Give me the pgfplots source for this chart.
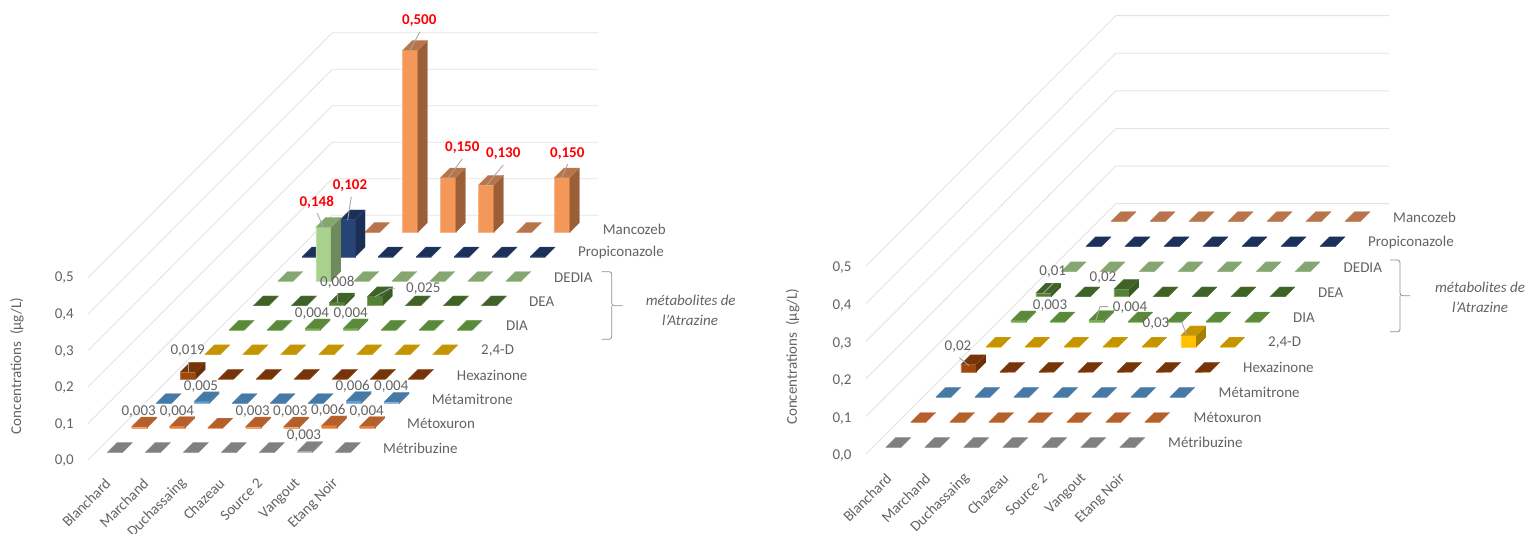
\documentclass[border=0pt]{standalone}
\usepackage{pgfplots}
\pgfplotsset{compat=1.18}
\usepackage{fontspec}
\setmainfont{Carlito}

% series colours: front, top and side faces of the prisms
\definecolor{mancF}{HTML}{F4985A}\definecolor{mancT}{HTML}{B8744A}\definecolor{mancS}{HTML}{9A5F37}
\definecolor{propF}{HTML}{264478}\definecolor{propT}{HTML}{1B3159}\definecolor{propS}{HTML}{1A2F55}
\definecolor{dediF}{HTML}{A9D18E}\definecolor{dediT}{HTML}{86A671}\definecolor{dediS}{HTML}{6F8B5C}
\definecolor{deaF}{HTML}{548235}\definecolor{deaT}{HTML}{3F6326}\definecolor{deaS}{HTML}{3A5A24}
\definecolor{diaF}{HTML}{70AD47}\definecolor{diaT}{HTML}{5A8A39}\definecolor{diaS}{HTML}{4F7A32}
\definecolor{tfdF}{HTML}{FFC000}\definecolor{tfdT}{HTML}{C49500}\definecolor{tfdS}{HTML}{A67E00}
\definecolor{hexF}{HTML}{9E480E}\definecolor{hexT}{HTML}{773409}\definecolor{hexS}{HTML}{6A2F08}
\definecolor{metaF}{HTML}{5B9BD5}\definecolor{metaT}{HTML}{4679A6}\definecolor{metaS}{HTML}{3E6C93}
\definecolor{mtxF}{HTML}{ED7D31}\definecolor{mtxT}{HTML}{B5602A}\definecolor{mtxS}{HTML}{A05526}
\definecolor{mtbF}{HTML}{A5A5A5}\definecolor{mtbT}{HTML}{808080}\definecolor{mtbS}{HTML}{707070}
\definecolor{txt}{HTML}{636363}
\definecolor{gridc}{HTML}{E3E3E3}
\definecolor{leader}{HTML}{A6A6A6}

\newcommand{\labfont}{\fontsize{15}{18}\selectfont}

% oblique projection of one chart: origin of the first cell, column step,
% row step, scale of the value axis
\newcommand{\setgeom}[6]{%
  \def\gox{#1}\def\goy{#2}\def\gcol{#3}\def\grx{#4}\def\gry{#5}\def\gval{#6}%
  \def\gwid{15.3}\def\gdep{9.7}}

% one prism: row, column, value, series
\newcommand{\prism}[4]{%
  \pgfmathsetmacro\pxa{\gox+#2*\gcol+#1*\grx}%
  \pgfmathsetmacro\pxb{\pxa+\gwid}%
  \pgfmathsetmacro\pxc{\pxb+\gdep}%
  \pgfmathsetmacro\pxd{\pxa+\gdep}%
  \pgfmathsetmacro\pyb{\goy-#1*\gry}%
  \pgfmathsetmacro\pyt{\pyb-#3*\gval}%
  \pgfmathsetmacro\pybb{\pyb-\gdep}%
  \pgfmathsetmacro\pytb{\pyt-\gdep}%
  \edef\doit{\noexpand\addplot[fill=#4F,draw=#4F!70!white,line width=.5pt]
    coordinates {(\pxa,\pyb) (\pxb,\pyb) (\pxb,\pyt) (\pxa,\pyt) (\pxa,\pyb)};
    \noexpand\addplot[fill=#4S,draw=#4S,line width=.2pt]
    coordinates {(\pxb,\pyb) (\pxc,\pybb) (\pxc,\pytb) (\pxb,\pyt) (\pxb,\pyb)};
    \noexpand\addplot[fill=#4T,draw=#4T!85!white,line width=.3pt]
    coordinates {(\pxa,\pyt) (\pxb,\pyt) (\pxc,\pytb) (\pxd,\pytb) (\pxa,\pyt)};}%
  \doit}

% a full row of seven stations: row, series, seven values
\newcommand{\barrow}[9]{%
  \prism{#1}{0}{#3}{#2}\prism{#1}{1}{#4}{#2}\prism{#1}{2}{#5}{#2}%
  \prism{#1}{3}{#6}{#2}\prism{#1}{4}{#7}{#2}\prism{#1}{5}{#8}{#2}\prism{#1}{6}{#9}{#2}}

% walls: front-left x, front y of level 0, back-left x, back y of level 0, right end, level step
\newcommand{\walls}[6]{%
  \pgfplotsinvokeforeach{0,1,2,3,4,5}{%
    \pgfmathsetmacro\wya{#2-##1*#6}%
    \pgfmathsetmacro\wyc{#4-##1*#6}%
    \edef\doit{\noexpand\addplot[gridc,line width=.9pt]
      coordinates {(#1,\wya) (#3,\wyc) (#5,\wyc)};}%
    \doit}}

\newcommand{\vallab}[3]{\node[font=\labfont,text=txt,inner sep=0pt] at (#1,#2) {#3};}
\newcommand{\redlab}[3]{\node[font=\labfont\bfseries,text=red,inner sep=0pt] at (#1,#2) {#3};}
\newcommand{\rowlab}[3]{\node[font=\labfont,text=txt,inner sep=0pt,anchor=west] at (#1,#2) {#3};}
\newcommand{\ticklab}[3]{\node[font=\labfont,text=txt,inner sep=0pt,anchor=east] at (#1,#2) {#3};}
\newcommand{\catlab}[3]{\node[font=\labfont,text=txt,inner sep=0pt,anchor=east,rotate=45] at (#1,#2) {#3};}

\begin{document}
\begin{tikzpicture}[x=1pt,y=1pt]
\path[use as bounding box] (0,0) rectangle (1531pt,534pt);
\begin{axis}[
  at={(0pt,0pt)},anchor=south west,
  width=1531pt,height=534pt,scale only axis,
  xmin=0,xmax=1531,ymin=0,ymax=534,y dir=reverse,
  hide axis,clip=false,no markers]

% ---- first chart ----
\walls{88}{460}{332.3}{215.3}{598.3}{36.5}
\setgeom{107.3}{452.3}{38}{24.35}{24.44}{364}
\barrow{9}{manc}{0}{0}{0.500}{0.150}{0.130}{0}{0.150}
\barrow{8}{prop}{0}{0.102}{0}{0}{0}{0}{0}
\barrow{7}{dedi}{0}{0.148}{0}{0}{0}{0}{0}
\barrow{6}{dea}{0}{0}{0.008}{0.025}{0}{0}{0}
\barrow{5}{dia}{0}{0}{0.004}{0.004}{0}{0}{0}
\barrow{4}{tfd}{0}{0}{0}{0}{0}{0}{0}
\barrow{3}{hex}{0.019}{0}{0}{0}{0}{0}{0}
\barrow{2}{meta}{0}{0.005}{0}{0}{0}{0.006}{0.004}
\barrow{1}{mtx}{0.003}{0.004}{0}{0.003}{0.003}{0.006}{0.004}
\barrow{0}{mtb}{0}{0}{0}{0}{0}{0.003}{0}

% leader lines
\addplot[leader,line width=.9pt] coordinates {(410,50) (420,31.7)};
\addplot[leader,line width=.9pt] coordinates {(448.3,177.7) (462.3,159)};
\addplot[leader,line width=.9pt] coordinates {(486.7,185) (503.3,165)};
\addplot[leader,line width=.9pt] coordinates {(561.7,177.7) (567.7,164)};
\addplot[leader,line width=.9pt] coordinates {(347.7,220) (351.3,196.7)};
\addplot[leader,line width=.9pt] coordinates {(323.3,227.3) (317.3,213.3)};
\addplot[leader,line width=.9pt] coordinates {(337.7,302.7) (337.7,293.3)};
\addplot[leader,line width=.9pt] coordinates {(375,296.7) (390,288.3) (395,288.3)};
\addplot[leader,line width=.9pt] coordinates {(188.3,371.7) (188.3,361.7)};

\redlab{419.3}{20.7}{0,500}
\redlab{462.3}{147.7}{0,150}
\redlab{503.3}{154}{0,130}
\redlab{567.3}{153.3}{0,150}
\redlab{350}{185.7}{0,102}
\redlab{316.7}{202.3}{0,148}
\vallab{337.3}{282.7}{0,008}
\vallab{423.3}{288.3}{0,025}
\vallab{312}{314}{0,004}
\vallab{350.7}{314}{0,004}
\vallab{187.7}{350.7}{0,019}
\vallab{201}{386.7}{0,005}
\vallab{352.7}{386}{0,006}
\vallab{391.3}{386.7}{0,004}
\vallab{138.7}{411.7}{0,003}
\vallab{177}{411.7}{0,004}
\vallab{252.7}{411.7}{0,003}
\vallab{290.3}{411.7}{0,003}
\vallab{328.3}{410.7}{0,006}
\vallab{366.7}{411.7}{0,004}
\vallab{304}{436}{0,003}

\ticklab{74}{460.7}{0,0}
\ticklab{74}{424.3}{0,1}
\ticklab{74}{387.8}{0,2}
\ticklab{74}{351.2}{0,3}
\ticklab{74}{314.5}{0,4}
\ticklab{74}{277.7}{0,5}
\node[font=\labfont,text=txt,inner sep=0pt,rotate=90] at (17,366) {Concentrations~ (µg/L)};

\catlab{108}{481}{Blanchard}
\catlab{146}{481}{Marchand}
\catlab{184}{481}{Duchassaing}
\catlab{222}{481}{Chazeau}
\catlab{260}{481}{Source 2}
\catlab{298}{481}{Vangout}
\catlab{336}{481}{Etang Noir}

\rowlab{602.7}{229}{Mancozeb}
\rowlab{578}{253}{Propiconazole}
\rowlab{554}{278}{DEDIA}
\rowlab{529}{301.7}{DEA}
\rowlab{506}{326}{DIA}
\rowlab{481}{351}{2,4-D}
\rowlab{456.7}{375}{Hexazinone}
\rowlab{431.7}{399}{Métamitrone}
\rowlab{407}{423.7}{Métoxuron}
\rowlab{383}{448}{Métribuzine}

% bracket grouping the atrazine metabolites
\addplot[leader!85!black,line width=.8pt,rounded corners=2.5pt] coordinates {(601.7,271.7) (611.7,271.7) (611.7,305.7) (622.7,305.7)};
\addplot[leader!85!black,line width=.8pt,rounded corners=2.5pt] coordinates {(601.7,339.3) (611.7,339.3) (611.7,305.7)};
\node[font=\labfont\itshape,text=txt,inner sep=0pt] at (690.7,300.7) {métabolites de};
\node[font=\labfont\itshape,text=txt,inner sep=0pt] at (690,320) {l'Atrazine};

% ---- second chart ----
\walls{866}{454}{1115.7}{203.7}{1389}{37.6}
\setgeom{885.7}{447.3}{39}{25.03}{25.1}{376}
\barrow{9}{manc}{0}{0}{0}{0}{0}{0}{0}
\barrow{8}{prop}{0}{0}{0}{0}{0}{0}{0}
\barrow{7}{dedi}{0}{0}{0}{0}{0}{0}{0}
\barrow{6}{dea}{0.010}{0}{0.020}{0}{0}{0}{0}
\barrow{5}{dia}{0.003}{0}{0.004}{0}{0}{0}{0}
\barrow{4}{tfd}{0}{0}{0}{0}{0}{0.030}{0}
\barrow{3}{hex}{0.020}{0}{0}{0}{0}{0}{0}
\barrow{2}{meta}{0}{0}{0}{0}{0}{0}{0}
\barrow{1}{mtx}{0}{0}{0}{0}{0}{0}{0}
\barrow{0}{mtb}{0}{0}{0}{0}{0}{0}{0}

\addplot[leader,line width=.9pt] coordinates {(1043.3,293.3) (1053.3,283.3)};
\addplot[leader,line width=.9pt] coordinates {(1096,320) (1100,306.7) (1108.3,306.7)};
\addplot[leader,line width=.9pt] coordinates {(1186.7,335) (1181.7,322.3) (1175,322.3)};
\addplot[leader,line width=.9pt] coordinates {(959.3,357.7) (969,365.7)};

\vallab{1052.7}{271.7}{0,01}
\vallab{1103}{277.3}{0,02}
\vallab{1050}{305.7}{0,003}
\vallab{1130}{308}{0,004}
\vallab{1156}{324}{0,03}
\vallab{958}{346.7}{0,02}

\ticklab{851.7}{456}{0,0}
\ticklab{851.7}{418.4}{0,1}
\ticklab{851.7}{380.8}{0,2}
\ticklab{851.7}{343.2}{0,3}
\ticklab{851.7}{305.5}{0,4}
\ticklab{851.7}{267.7}{0,5}
\node[font=\labfont,text=txt,inner sep=0pt,rotate=90] at (792.7,356.7) {Concentrations~ (µg/L)};

\catlab{889}{476}{Blanchard}
\catlab{928}{476}{Marchand}
\catlab{967}{476}{Duchassaing}
\catlab{1006}{476}{Chazeau}
\catlab{1045}{476}{Source 2}
\catlab{1084}{476}{Vangout}
\catlab{1123}{476}{Etang Noir}

\rowlab{1393}{217.3}{Mancozeb}
\rowlab{1368}{242.3}{Propiconazole}
\rowlab{1343.5}{267.3}{DEDIA}
\rowlab{1318}{292.3}{DEA}
\rowlab{1293}{317.5}{DIA}
\rowlab{1268}{342.5}{2,4-D}
\rowlab{1243}{367.5}{Hexazinone}
\rowlab{1218.5}{392.5}{Métamitrone}
\rowlab{1193.5}{417.7}{Métoxuron}
\rowlab{1168}{442.7}{Métribuzine}

\addplot[leader!85!black,line width=.8pt,rounded corners=2.5pt] coordinates {(1390,260) (1400,260) (1400,295.7) (1410,295.7)};
\addplot[leader!85!black,line width=.8pt,rounded corners=2.5pt] coordinates {(1390,331.7) (1400,331.7) (1400,295.7)};
\node[font=\labfont\itshape,text=txt,inner sep=0pt] at (1480,287.7) {métabolites de};
\node[font=\labfont\itshape,text=txt,inner sep=0pt] at (1480,307.3) {l'Atrazine};
\end{axis}
\end{tikzpicture}
\end{document}
